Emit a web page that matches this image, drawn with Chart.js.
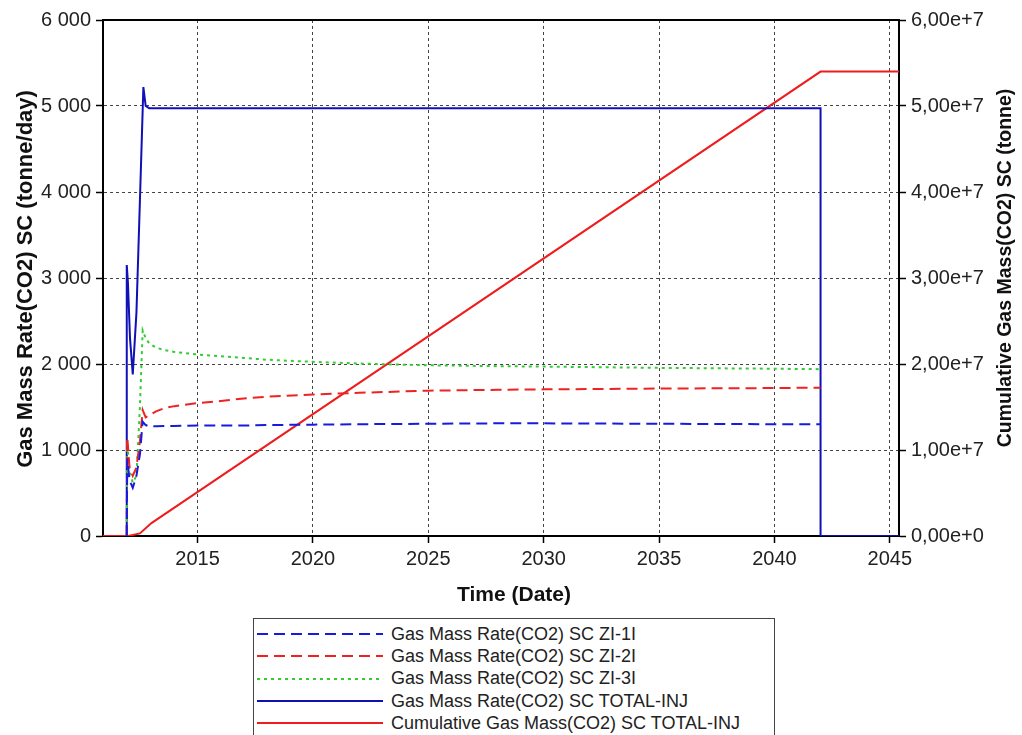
<!DOCTYPE html>
<html>
<head>
<meta charset="utf-8">
<script src="https://cdn.jsdelivr.net/npm/chart.js@4/dist/chart.umd.min.js"></script>
<style>
  body { margin: 0; background: #fff; width: 1022px; height: 735px; overflow: hidden; position: relative; font-family: "Liberation Sans", Arial, sans-serif; }
  #wrap { position: absolute; left: 0; top: 0; width: 1022px; height: 612px; }
  #legend { position: absolute; left: 253px; top: 618px; width: 522px; height: 130px; border: 1px solid #444; background: #fff; padding-top: 4px; box-sizing: border-box; }
  .row { height: 22.3px; display: flex; align-items: center; font-size: 18px; color: #222; white-space: nowrap; }
  .row svg { margin-left: 3px; margin-right: 8px; }
</style>
</head>
<body>
<div id="wrap"><canvas id="chart" width="1022" height="612"></canvas></div>
<div id="legend"></div>
<script>
// time in decimal years
const tWells = [2011.93, 2011.95, 2012.05, 2012.19, 2012.35, 2012.5, 2012.62, 2012.75, 2012.9, 2013.2, 2013.6, 2014, 2015, 2016, 2017, 2018, 2020, 2022, 2025, 2028, 2030, 2035, 2040, 2042];
const rateZI1 = [0, 900, 650, 560, 700, 950, 1330, 1290, 1275, 1275, 1280, 1280, 1285, 1285, 1285, 1290, 1295, 1300, 1305, 1310, 1310, 1305, 1300, 1300];
const rateZI2 = [0, 1150, 800, 700, 800, 1100, 1465, 1380, 1400, 1450, 1490, 1510, 1545, 1570, 1600, 1620, 1645, 1665, 1690, 1700, 1705, 1715, 1720, 1725];
const rateZI3 = [0, 1100, 750, 620, 700, 1500, 2390, 2300, 2240, 2190, 2160, 2140, 2110, 2090, 2070, 2050, 2025, 2005, 1985, 1975, 1970, 1955, 1945, 1940];

const tTotal = [2011.93, 2011.93, 2011.98, 2012.07, 2012.19, 2012.35, 2012.5, 2012.65, 2012.75, 2012.9, 2042.0, 2042.0, 2045.4];
const rateTotal = [0, 3150, 2950, 2300, 1880, 2600, 3900, 5220, 5000, 4975, 4975, 0, 0];

const tCum = [2010.9, 2012.0, 2012.5, 2013.0, 2042.0, 2045.4];
const cumTotal = [0, 0, 300000, 1500000, 54000000, 54000000];

const xTicks = [2015, 2020, 2025, 2030, 2035, 2040, 2045];
const rateTicks = [0, 1000, 2000, 3000, 4000, 5000, 6000];
const cumTicks = [0, 1e7, 2e7, 3e7, 4e7, 5e7, 6e7];

const labels = [
    'Gas Mass Rate(CO2) SC ZI-1I',
    'Gas Mass Rate(CO2) SC ZI-2I',
    'Gas Mass Rate(CO2) SC ZI-3I',
    'Gas Mass Rate(CO2) SC TOTAL-INJ',
    'Cumulative Gas Mass(CO2) SC TOTAL-INJ'
];

const pts = (t, v) => t.map((x, i) => ({ x: x, y: v[i] }));

const FONT = '"Liberation Sans", Arial, sans-serif';

// axis titles + top frame line
const framePlugin = {
    id: 'frame',
    afterDraw(chart) {
        const ctx = chart.ctx;
        const a = chart.chartArea;
        ctx.save();
        ctx.strokeStyle = '#000';
        ctx.lineWidth = 2;
        ctx.beginPath();
        ctx.moveTo(a.left - 1, a.top);
        ctx.lineTo(a.right + 1, a.top);
        ctx.stroke();

        ctx.fillStyle = '#111';
        ctx.font = 'bold 21px ' + FONT;
        ctx.textAlign = 'center';
        ctx.textBaseline = 'middle';
        ctx.fillText('Time (Date)', 514, 595);

        ctx.font = 'bold 22px ' + FONT;
        ctx.translate(26, 279);
        ctx.rotate(-Math.PI / 2);
        ctx.fillText('Gas Mass Rate(CO2) SC (tonne/day)', 0, 0);
        ctx.restore();

        ctx.save();
        ctx.fillStyle = '#111';
        ctx.font = 'bold 19.5px ' + FONT;
        ctx.textAlign = 'center';
        ctx.textBaseline = 'middle';
        ctx.translate(1006, 268);
        ctx.rotate(-Math.PI / 2);
        ctx.fillText('Cumulative Gas Mass(CO2) SC (tonne)', 0, 0);
        ctx.restore();
    }
};

const gridCommon = {
    color: '#444',
    lineWidth: 1,
    tickColor: '#000',
    tickLength: 7,
    tickWidth: 1.5,
    tickBorderDash: []
};

const chart = new Chart(document.getElementById('chart'), {
    type: 'line',
    data: {
        datasets: [
            {
                label: labels[0],
                data: pts(tWells, rateZI1),
                borderColor: '#1a1adf',
                borderWidth: 2,
                borderDash: [11, 6],
                yAxisID: 'y'
            },
            {
                label: labels[1],
                data: pts(tWells, rateZI2),
                borderColor: '#ee2222',
                borderWidth: 2,
                borderDash: [11, 6],
                yAxisID: 'y'
            },
            {
                label: labels[2],
                data: pts(tWells, rateZI3),
                borderColor: '#33cc33',
                borderWidth: 2,
                borderDash: [3, 4],
                yAxisID: 'y'
            },
            {
                label: labels[3],
                data: pts(tTotal, rateTotal),
                borderColor: '#1010b8',
                borderWidth: 2,
                yAxisID: 'y'
            },
            {
                label: labels[4],
                data: pts(tCum, cumTotal),
                borderColor: '#ee1c1c',
                borderWidth: 2,
                yAxisID: 'y2'
            }
        ]
    },
    options: {
        responsive: false,
        animation: false,
        events: [],
        elements: {
            point: { radius: 0 },
            line: { tension: 0, fill: false }
        },
        layout: { padding: { top: 20, left: 0, right: 0, bottom: 0 } },
        plugins: {
            legend: { display: false },
            tooltip: { enabled: false }
        },
        scales: {
            x: {
                type: 'linear',
                min: 2010.9,
                max: 2045.4,
                afterBuildTicks: s => { s.ticks = xTicks.map(v => ({ value: v })); },
                afterFit: s => { s.height = 76; },
                grid: gridCommon,
                border: { display: true, color: '#000', width: 2, dash: [3, 3] },
                ticks: {
                    color: '#222',
                    font: { family: FONT, size: 20 },
                    padding: 4,
                    maxRotation: 0,
                    callback: v => String(v)
                }
            },
            y: {
                position: 'left',
                min: 0,
                max: 6000,
                afterBuildTicks: s => { s.ticks = rateTicks.map(v => ({ value: v })); },
                afterFit: s => { s.width = 103; },
                grid: gridCommon,
                border: { display: true, color: '#000', width: 2, dash: [3, 3] },
                ticks: {
                    color: '#222',
                    font: { family: FONT, size: 20 },
                    padding: 5,
                    callback: v => v === 0 ? '0' : String(v).replace(/\B(?=(\d{3})+(?!\d))/g, ' ')
                }
            },
            y2: {
                position: 'right',
                min: 0,
                max: 6e7,
                afterBuildTicks: s => { s.ticks = cumTicks.map(v => ({ value: v })); },
                afterFit: s => { s.width = 123; },
                grid: { drawOnChartArea: false, tickColor: '#000', tickLength: 7, tickWidth: 1.5 },
                border: { display: true, color: '#000', width: 2 },
                ticks: {
                    color: '#222',
                    font: { family: FONT, size: 20 },
                    padding: 5,
                    callback: v => v === 0 ? '0,00e+0' : (v / 1e7).toFixed(2).replace('.', ',') + 'e+7'
                }
            }
        }
    },
    plugins: [framePlugin]
});

// legend box in a single column, as in the original
const legendEl = document.getElementById('legend');
chart.data.datasets.forEach(ds => {
    const row = document.createElement('div');
    row.className = 'row';
    const dash = ds.borderDash ? ds.borderDash.join(',') : 'none';
    row.innerHTML =
        '<svg width="126" height="10"><line x1="0" y1="5" x2="126" y2="5" stroke="' + ds.borderColor +
        '" stroke-width="2" stroke-dasharray="' + dash + '"/></svg><span>' + ds.label + '</span>';
    legendEl.appendChild(row);
});
</script>
</body>
</html>
